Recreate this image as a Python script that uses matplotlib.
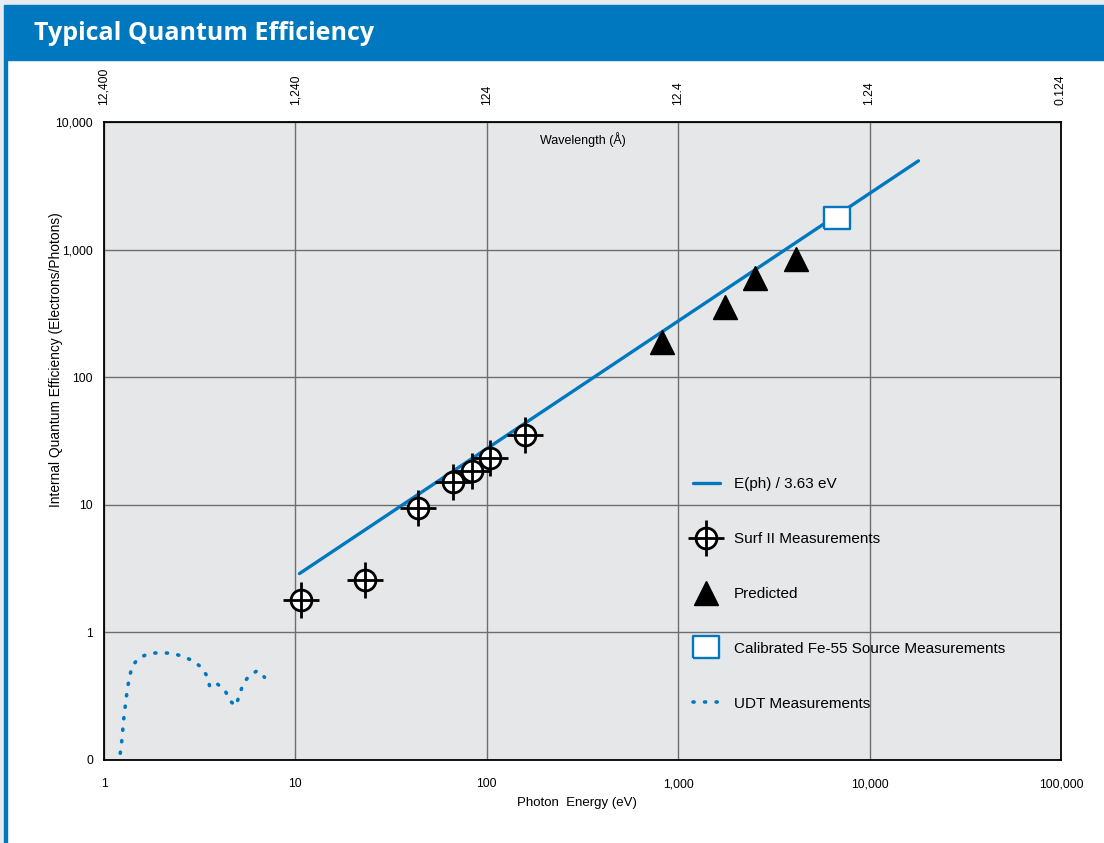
import matplotlib

matplotlib.use("Agg")
import matplotlib.pyplot as plt
from matplotlib.patches import Rectangle
from matplotlib.ticker import NullLocator

BLUE = "#0078bf"
PANEL = "#e6e7e9"
GRID = "#6d6e71"

plt.rcParams["font.family"] = ["Liberation Sans", "DejaVu Sans"]

# ---- data ----
line_energy = [10.5, 18000]
line_qe = [2.89, 4960]

surf_energy = [10.7, 23.2, 43.7, 66.5, 83.5, 103.7, 157.8]
surf_qe = [1.79, 2.58, 9.44, 15.1, 18.4, 23.3, 35.2]

pred_energy = [826, 1757, 2511, 4133]
pred_qe = [189, 355, 604, 844]

fe_energy = [6730]
fe_qe = [1770]

udt_energy = [1.216, 1.236, 1.252, 1.266, 1.286, 1.306, 1.329, 1.361, 1.404,
              1.527, 1.736, 1.974, 2.253, 2.557, 2.908, 3.228, 3.468, 3.578,
              3.910, 4.283, 4.515, 4.870, 5.109, 5.315, 5.713, 6.318, 6.897]
udt_qe = [0.113, 0.137, 0.169, 0.206, 0.251, 0.305, 0.371, 0.450, 0.546,
          0.634, 0.686, 0.693, 0.686, 0.653, 0.600, 0.533, 0.450, 0.371,
          0.394, 0.354, 0.295, 0.265, 0.323, 0.392, 0.455, 0.501, 0.445]

x_ticks = [1, 10, 100, 1000, 10000, 100000]
x_labels = ["1", "10", "100", "1,000", "10,000", "100,000"]
wl_labels = ["12,400", "1,240", "124", "12.4", "1.24", "0.124"]
y_ticks = [0.1, 1, 10, 100, 1000, 10000]
y_labels = ["0", "1", "10", "100", "1,000", "10,000"]

# ---- figure + page decoration ----
fig = plt.figure(figsize=(11.04, 8.43), dpi=100)
fig.patch.set_facecolor("white")
W, H = 1104, 843


def px_rect(x0, y0, x1, y1, color):
    fig.patches.append(Rectangle((x0 / W, 1 - y1 / H), (x1 - x0) / W, (y1 - y0) / H,
                                 transform=fig.transFigure, color=color, zorder=0))


px_rect(0, 0, W, 5, "#e7ebed")
px_rect(0, 0, 4, H, "#e7ebed")
px_rect(4, 5, W, 60, BLUE)
px_rect(4, 60, 7, H, BLUE)
fig.text(34 / W, 1 - 33 / H, "Typical Quantum Efficiency", color="white",
         fontsize=18, fontweight="bold", family=["Open Sans", "DejaVu Sans"],
         ha="left", va="center")

ax = fig.add_axes([104 / W, 1 - 760 / H, 957 / W, 638 / H])
ax.set_facecolor(PANEL)
ax.set_xscale("log")
ax.set_yscale("log")
ax.set_xlim(1, 100000)
ax.set_ylim(0.1, 10000)
ax.set_xticks(x_ticks, labels=x_labels)
ax.set_yticks(y_ticks, labels=y_labels)
ax.minorticks_off()
ax.tick_params(length=0, labelsize=8.7)
ax.tick_params(axis="x", pad=13)
ax.tick_params(axis="y", pad=8)
ax.grid(True, color=GRID, linewidth=1.0)
ax.set_axisbelow(True)
for s in ax.spines.values():
    s.set_color("black")
    s.set_linewidth(1.3)

# wavelength scale along the top
secax = ax.secondary_xaxis("top")
secax.set_xticks(x_ticks, labels=wl_labels)
secax.xaxis.set_minor_locator(NullLocator())
secax.tick_params(length=0, labelsize=8.7, pad=12, labelrotation=90)
secax.spines["top"].set_visible(False)

ax.text(0.5, 0.973, "Wavelength (Å)", transform=ax.transAxes, fontsize=9,
        ha="center", va="center")
ax.set_xlabel("Photon  Energy (eV)", fontsize=9.5)
ax.xaxis.set_label_coords(0.494, -0.058)
ax.set_ylabel("Internal Quantum Efficiency (Electrons/Photons)", fontsize=9.9)
ax.yaxis.set_label_coords(-0.043, 0.628)

# ---- series ----
ln, = ax.plot(line_energy, line_qe, color=BLUE, linewidth=2.4, zorder=2,
              solid_capstyle="round")
udt, = ax.plot(udt_energy, udt_qe, color=BLUE, linewidth=2.6,
               linestyle=(0, (0.3, 2.9)), dash_capstyle="round", zorder=2)
circ, = ax.plot(surf_energy, surf_qe, "o", markersize=15, markerfacecolor="white",
                markeredgecolor="black", markeredgewidth=2.0, zorder=4)
cross, = ax.plot(surf_energy, surf_qe, "+", markersize=26, color="black",
                 markeredgewidth=2.0, zorder=5)
tri, = ax.plot(pred_energy, pred_qe, "^", markersize=17, color="black", zorder=4)
box_marker = [(-1.24, -1), (1.24, -1), (1.24, 1), (-1.24, 1), (-1.24, -1)]
fe, = ax.plot(fe_energy, fe_qe, linestyle="none", marker=box_marker,
              markersize=19, markerfacecolor="white", markeredgecolor=BLUE,
              markeredgewidth=1.7, zorder=4)

ax.legend([ln, (circ, cross), tri, fe, udt],
          ["E(ph) / 3.63 eV", "Surf II Measurements", "Predicted",
           "Calibrated Fe-55 Source Measurements", "UDT Measurements"],
          loc="upper left", bbox_to_anchor=(0.607, 0.455), frameon=False,
          borderpad=0, fontsize=11, handlelength=1.8, handletextpad=0.9,
          labelspacing=2.67)

fig.savefig("out.png", dpi=100)
